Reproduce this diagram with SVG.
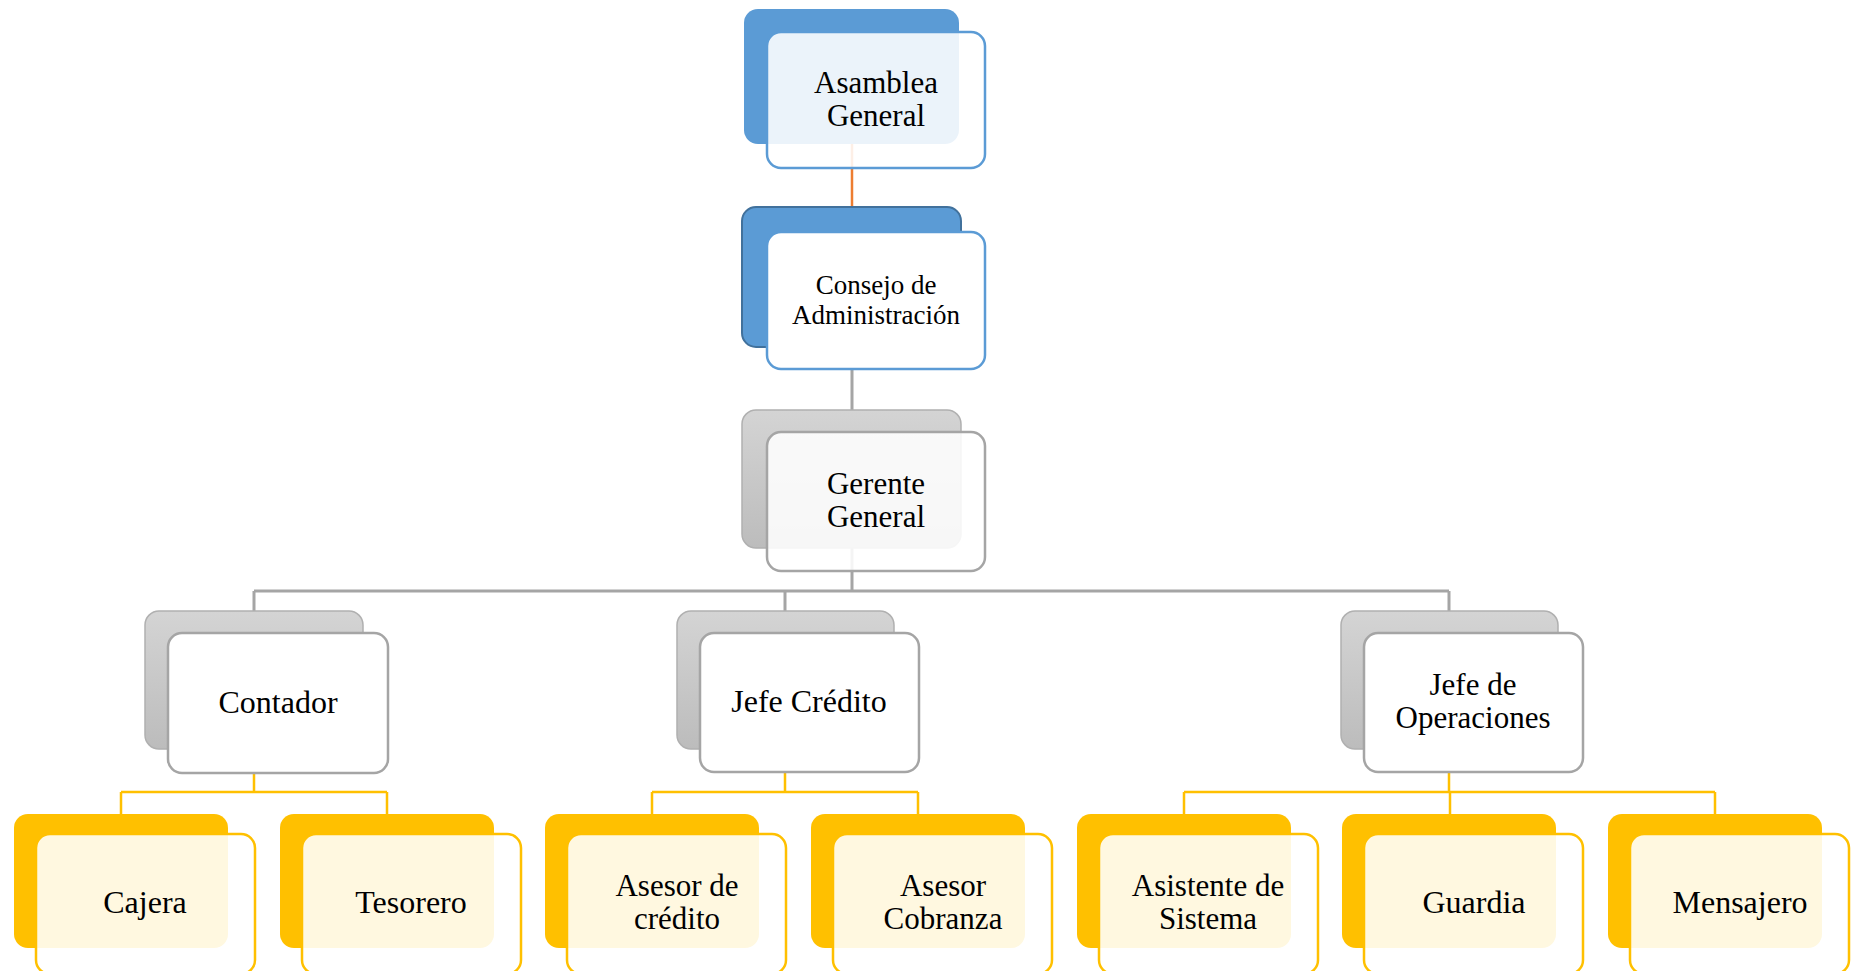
<svg xmlns="http://www.w3.org/2000/svg" width="1852" height="971" viewBox="0 0 1852 971">
<defs>
<linearGradient id="gray" x1="0" y1="0" x2="0" y2="1">
<stop offset="0" stop-color="#D4D4D4"/>
<stop offset="1" stop-color="#BCBCBC"/>
</linearGradient>
<style>
text{font-family:"Liberation Serif","Times New Roman",serif;font-size:32px;fill:#000;text-anchor:middle}
.two{font-size:31px}
.blueB{fill:#5B9BD5}
.blueB2{fill:#5B9BD5;stroke:#41719C;stroke-width:2}
.blueF{fill:#fff;stroke:#5B9BD5;stroke-width:2.5}
.grayB{fill:url(#gray);stroke:#B0B0B0;stroke-width:1.5}
.grayF{fill:#fff;stroke:#A5A5A5;stroke-width:2.5}
.yelB{fill:#FFC000}
.yelF{fill:#fff;fill-opacity:0.88;stroke:#FFC000;stroke-width:2.5}
.trans{fill-opacity:0.88}
.cg{fill:none;stroke:#A5A5A5;stroke-width:3}
.cy{fill:none;stroke:#FFC000;stroke-width:2.5}
.co{fill:none;stroke:#ED7D31;stroke-width:2.5}
</style>
</defs>
<rect width="1852" height="971" fill="#fff"/>
<g id="connectors">
<line class="co" x1="852" y1="144" x2="852" y2="208"/>
<line class="cg" x1="852" y1="347" x2="852" y2="411"/>
<path class="cg" d="M852 548 V591 M254 591 H1449 M254 591 V612 M785 591 V612 M1449 591 V612"/>
<path class="cy" d="M254 749 V792 M121 792 H387 M121 792 V815 M387 792 V815"/>
<path class="cy" d="M785 749 V792 M652 792 H918 M652 792 V815 M918 792 V815"/>
<path class="cy" d="M1449 749 V792 M1184 792 H1715 M1184 792 V815 M1450 792 V815 M1715 792 V815"/>
</g>
<g id="asamblea">
<rect class="blueB" x="744" y="9" width="215" height="135" rx="14"/>
<rect class="blueF trans" x="767" y="32" width="218" height="136" rx="14"/>
<text class="two" x="876" y="93">Asamblea</text>
<text class="two" x="876" y="126">General</text>
</g>
<g id="consejo">
<rect class="blueB2" x="742" y="207" width="219" height="140" rx="14"/>
<rect class="blueF" x="767" y="232" width="218" height="137" rx="14"/>
<text x="876" y="294" style="font-size:27px">Consejo de</text>
<text x="876" y="324" style="font-size:27px">Administración</text>
</g>
<g id="gerente">
<rect class="grayB" x="742" y="410" width="219" height="138" rx="14"/>
<rect class="grayF trans" x="767" y="432" width="218" height="139" rx="14"/>
<text class="two" x="876" y="494">Gerente</text>
<text class="two" x="876" y="527">General</text>
</g>
<g id="contador">
<rect class="grayB" x="145" y="611" width="218" height="138" rx="14"/>
<rect class="grayF" x="168" y="633" width="220" height="140" rx="14"/>
<text x="278" y="713">Contador</text>
</g>
<g id="jefe-credito">
<rect class="grayB" x="677" y="611" width="217" height="138" rx="14"/>
<rect class="grayF" x="700" y="633" width="219" height="139" rx="14"/>
<text x="809" y="712">Jefe Crédito</text>
</g>
<g id="jefe-operaciones">
<rect class="grayB" x="1341" y="611" width="217" height="138" rx="14"/>
<rect class="grayF" x="1364" y="633" width="219" height="139" rx="14"/>
<text class="two" x="1473" y="695">Jefe de</text>
<text class="two" x="1473" y="728">Operaciones</text>
</g>
<g id="cajera">
<rect class="yelB" x="14" y="814" width="214" height="134" rx="14"/>
<rect class="yelF" x="36" y="834" width="219" height="140" rx="14"/>
<text x="145" y="913">Cajera</text>
</g>
<g id="tesorero">
<rect class="yelB" x="280" y="814" width="214" height="134" rx="14"/>
<rect class="yelF" x="302" y="834" width="219" height="140" rx="14"/>
<text x="411" y="913">Tesorero</text>
</g>
<g id="asesor-credito">
<rect class="yelB" x="545" y="814" width="214" height="134" rx="14"/>
<rect class="yelF" x="567" y="834" width="219" height="140" rx="14"/>
<text class="two" x="677" y="896">Asesor de</text>
<text class="two" x="677" y="929">crédito</text>
</g>
<g id="asesor-cobranza">
<rect class="yelB" x="811" y="814" width="214" height="134" rx="14"/>
<rect class="yelF" x="833" y="834" width="219" height="140" rx="14"/>
<text class="two" x="943" y="896">Asesor</text>
<text class="two" x="943" y="929">Cobranza</text>
</g>
<g id="asistente-sistema">
<rect class="yelB" x="1077" y="814" width="214" height="134" rx="14"/>
<rect class="yelF" x="1099" y="834" width="219" height="140" rx="14"/>
<text class="two" x="1208" y="896">Asistente de</text>
<text class="two" x="1208" y="929">Sistema</text>
</g>
<g id="guardia">
<rect class="yelB" x="1342" y="814" width="214" height="134" rx="14"/>
<rect class="yelF" x="1364" y="834" width="219" height="140" rx="14"/>
<text x="1474" y="913">Guardia</text>
</g>
<g id="mensajero">
<rect class="yelB" x="1608" y="814" width="214" height="134" rx="14"/>
<rect class="yelF" x="1630" y="834" width="219" height="140" rx="14"/>
<text x="1740" y="913">Mensajero</text>
</g>
</svg>
